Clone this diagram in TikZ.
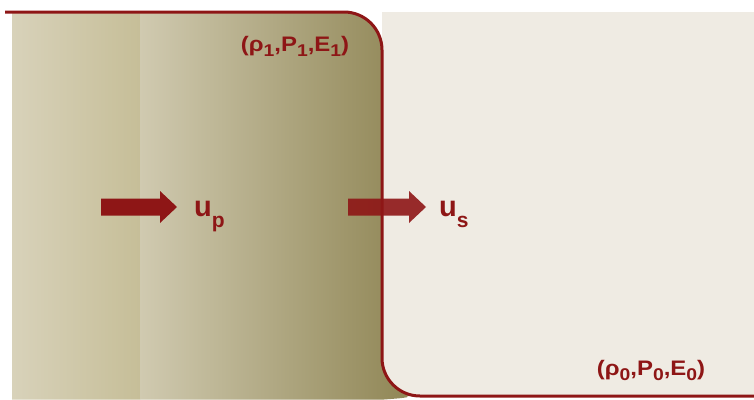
\documentclass[tikz,border=0pt]{standalone}
\usepackage{fontspec}
\setmainfont{Liberation Sans}
\definecolor{shockred}{HTML}{8E1616}
\definecolor{beige}{HTML}{EFEBE3}
\definecolor{bandAL}{HTML}{D8D2BA}
\definecolor{bandAR}{HTML}{C6BE98}
\definecolor{bandBL}{HTML}{D0CAB0}
\definecolor{bandBR}{HTML}{8C8250}
\newcommand\lowsub[1]{\raisebox{-5pt}{\fontsize{17}{18}\selectfont #1}}
\newcommand\widetext[1]{\scalebox{1.14}[1]{#1}}
\tikzset{
  statelabel/.style={inner sep=0pt, text=shockred, font=\bfseries\fontsize{21}{24}\selectfont},
  speedlabel/.style={inner sep=0pt, anchor=base west, text=shockred, font=\bfseries\fontsize{29}{30}\selectfont},
  bigarrow/.style={fill=shockred},
}
\begin{document}
\begin{tikzpicture}[x=1pt,y=-1pt]
\useasboundingbox (0,0) rectangle (754,399);
\fill[white] (0,0) rectangle (754,399);
% unshocked region
\fill[beige] (382,12) rectangle (754,396);
% shocked region with gradient
\begin{scope}
\clip[rounded corners=38pt] (200,12) -- (382,12) -- (382,396) -- (430,396) [sharp corners] -- (384,399.5) -- (12,399.5) -- (12,12) -- cycle;
\shade[left color=bandAL, right color=bandAR] (12,12) rectangle (140,420);
\shade[left color=bandBL, right color=bandBR] (140,12) rectangle (425,420);
\end{scope}
% shock front line
\draw[shockred, line width=3pt, rounded corners=38pt] (5,12) -- (382,12) -- (382,396) -- (800,396);
% arrows
\fill[bigarrow] (101,198.5) -- (160,198.5) -- (160,191) -- (177,207) -- (160,223) -- (160,215.5) -- (101,215.5) -- cycle;
\fill[bigarrow, opacity=0.9] (348,198.5) -- (409,198.5) -- (409,191) -- (426,207) -- (409,223) -- (409,215.5) -- (348,215.5) -- cycle;
% labels
\node[statelabel] (s1) at (295,46) {\widetext{(ρ\lowsub{1},P\lowsub{1},E\lowsub{1})}};
\node[statelabel] (s0) at (651,370) {\widetext{(ρ\lowsub{0},P\lowsub{0},E\lowsub{0})}};
\node[speedlabel] (up) at (194,216) {u\raisebox{-11pt}{\fontsize{21}{21}\selectfont p}};
\node[speedlabel] (us) at (439,216) {u\raisebox{-11pt}{\fontsize{21}{21}\selectfont s}};
\end{tikzpicture}
\end{document}
